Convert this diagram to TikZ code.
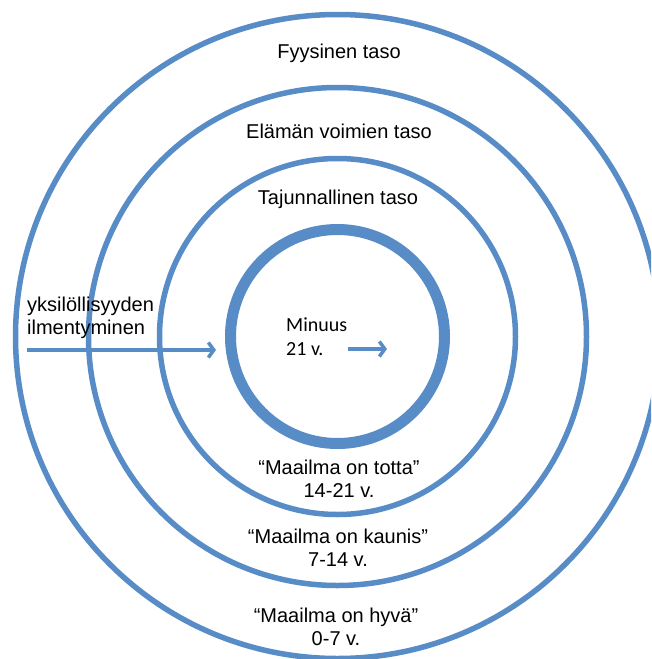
\documentclass[tikz,border=0pt]{standalone}
\usepackage{fontspec}
\setmainfont{Liberation Sans}
\newfontfamily\calib{Carlito}
\usetikzlibrary{arrows.meta}
\definecolor{ringblue}{RGB}{88,140,199}
\begin{document}
\begin{tikzpicture}[x=1pt,y=-1pt,
 ring/.style={draw=ringblue, line width=5.5pt, circle, inner sep=0pt},
 core/.style={draw=ringblue, line width=11pt, circle, inner sep=0pt},
 lbl/.style={font=\fontsize{20}{23}\selectfont, align=center, inner sep=0pt},
 flow/.style={draw=ringblue, line width=3.5pt, -{Straight Barb[length=5.5pt,width=15pt]}}]
\useasboundingbox (0,0) rectangle (651,659);
\fill[white] (0,0) rectangle (651,659);
\begin{scope}
\clip (0,0) rectangle (651,659);
\node[ring, minimum size=644pt] (c1) at (337.5,336.5) {};
\node[ring, minimum size=498pt] (c2) at (337.5,336.5) {};
\node[ring, minimum size=356pt] (c3) at (337.5,336.5) {};
\node[core, minimum size=214pt] (core) at (337.5,336.5) {};
\end{scope}
\node[lbl] (fy) at (339,53) {Fyysinen taso};
\node[lbl] (el) at (339,131) {Elämän voimien taso};
\node[lbl] (ta) at (338,199) {Tajunnallinen taso};
\node[lbl, align=left, anchor=west] (yk) at (27,318) {yksilöllisyyden\\ilmentyminen};
\node[lbl, font=\calib\fontsize{20}{24}\selectfont, align=left, anchor=west] (mi) at (286,337) {Minuus\\21 v.};
\node[lbl] (t1) at (339,478.5) {“Maailma on totta”\\14-21 v.};
\node[lbl] (t2) at (338,547.5) {“Maailma on kaunis”\\7-14 v.};
\node[lbl] (t3) at (336,626.5) {“Maailma on hyvä”\\0-7 v.};
\coordinate (a0) at (27,350);
\coordinate (a1) at (216,350);
\coordinate (b0) at (348,349);
\coordinate (b1) at (387,349);
\draw[flow] (a0) -- (a1);
\draw[flow] (b0) -- (b1);
\end{tikzpicture}
\end{document}
